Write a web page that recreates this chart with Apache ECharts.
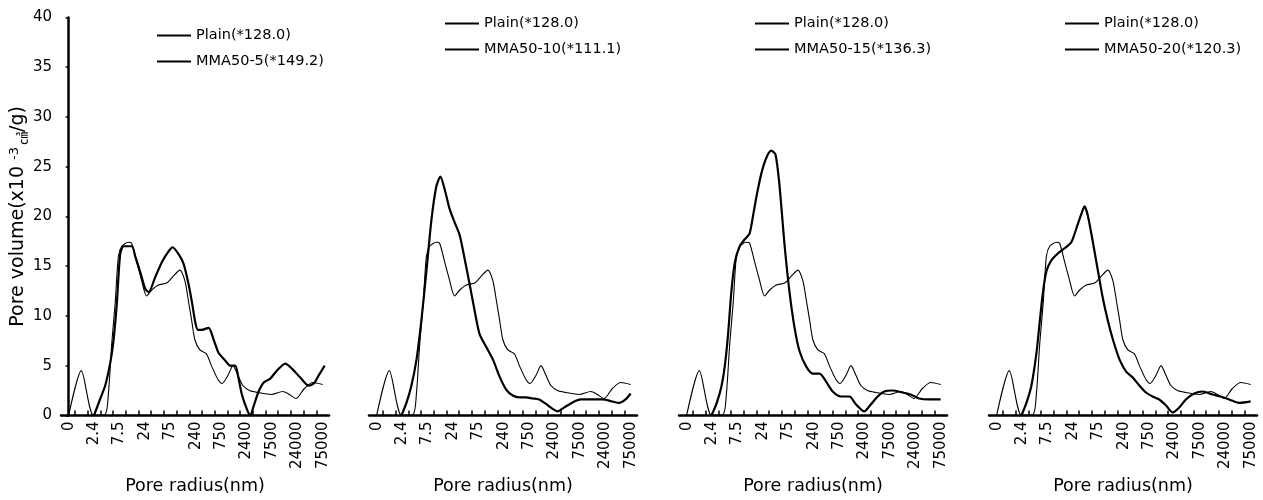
<!DOCTYPE html>
<html>
<head>
<meta charset="utf-8">
<script src="https://cdn.jsdelivr.net/npm/echarts@6/dist/echarts.min.js"></script>
<style>html,body{margin:0;padding:0;background:#fff}#c{width:1263px;height:500px}</style>
</head>
<body>
<div id="c"></div>
<script>
// Tick labels of the pore-radius axis (nm), one per position index 0..10
const xTickLabels = ['0', '2.4', '7.5', '24', '75', '240', '750', '2400', '7500', '24000', '75000'];

// Series names
const plainName = 'Plain(*128.0)';
const mmaNames = ['MMA50-5(*149.2)', 'MMA50-10(*111.1)', 'MMA50-15(*136.3)', 'MMA50-20(*120.3)'];

// [position index, pore volume]
const plain = [[0,0],[0.5,4.5],[0.98,0],[1.44,0.1],[1.57,2.3],[1.7,7.3],[1.83,11.2],[1.96,16.0],[2.09,17.0],[2.35,17.4],[2.48,17.3],[2.68,15.4],[2.85,13.8],[3.07,12.0],[3.27,12.6],[3.53,13.1],[3.86,13.3],[4.12,14.0],[4.38,14.6],[4.58,13.5],[4.71,11.6],[4.84,9.6],[4.97,7.6],[5.16,6.6],[5.42,6.2],[5.62,5.0],[5.88,3.6],[6.04,3.2],[6.27,4.0],[6.47,5.0],[6.67,4.0],[6.86,3.0],[7.12,2.5],[7.45,2.3],[7.97,2.1],[8.43,2.4],[8.69,2.1],[8.95,1.7],[9.28,2.7],[9.61,3.3],[10.0,3.1]];

const mma5 = [[1.0,0],[1.25,1.7],[1.44,3.0],[1.64,5.3],[1.77,7.6],[1.9,11.3],[2.03,16.2],[2.17,17.0],[2.49,17.0],[2.62,16.0],[2.82,14.4],[3.02,12.7],[3.15,12.4],[3.41,13.9],[3.67,15.4],[3.94,16.5],[4.09,16.9],[4.33,16.2],[4.53,15.2],[4.72,13.2],[4.86,11.3],[4.99,9.3],[5.09,8.6],[5.25,8.6],[5.51,8.8],[5.71,7.6],[5.9,6.3],[6.17,5.5],[6.36,5.0],[6.56,5.0],[6.69,3.7],[6.82,2.1],[7.02,0.6],[7.15,0],[7.28,0.9],[7.48,2.4],[7.68,3.3],[7.94,3.7],[8.2,4.5],[8.53,5.2],[8.79,4.7],[9.12,3.8],[9.45,3.0],[9.65,3.2],[9.84,4.0],[10.08,5.0]];

const mma10 = [[0.98,0],[1.18,1.3],[1.37,3.0],[1.57,5.6],[1.76,9.5],[1.96,14.5],[2.16,19.7],[2.35,23.0],[2.51,24.0],[2.68,22.7],[2.88,20.7],[3.07,19.4],[3.27,18.1],[3.46,15.8],[3.66,13.2],[3.86,10.5],[4.05,8.2],[4.31,6.9],[4.58,5.6],[4.84,3.9],[5.1,2.6],[5.36,2.0],[5.62,1.8],[5.88,1.8],[6.14,1.7],[6.4,1.6],[6.67,1.15],[6.93,0.65],[7.12,0.4],[7.39,0.8],[7.71,1.3],[8.04,1.6],[8.5,1.6],[8.89,1.6],[9.28,1.4],[9.54,1.25],[9.8,1.6],[10.0,2.2]];

const mma15 = [[0.98,0],[1.18,1.2],[1.37,2.9],[1.5,4.9],[1.63,8.1],[1.76,12.4],[1.9,15.4],[2.09,17.0],[2.29,17.7],[2.48,18.3],[2.61,20.0],[2.75,22.0],[2.94,24.3],[3.14,25.9],[3.33,26.6],[3.5,26.2],[3.66,23.0],[3.86,17.0],[4.05,12.4],[4.25,8.8],[4.44,6.5],[4.71,4.9],[4.97,4.2],[5.23,4.2],[5.49,3.4],[5.75,2.4],[6.08,1.9],[6.41,1.9],[6.67,1.1],[6.99,0.4],[7.25,1.1],[7.52,1.9],[7.78,2.4],[8.1,2.5],[8.5,2.3],[8.82,2.1],[9.15,1.7],[9.54,1.6],[10.0,1.6]];

const mma20 = [[0.98,0],[1.18,1.3],[1.37,3.0],[1.57,6.3],[1.7,9.5],[1.83,12.5],[1.96,14.5],[2.16,15.6],[2.42,16.3],[2.68,16.8],[2.94,17.4],[3.14,18.8],[3.33,20.2],[3.46,21.0],[3.59,20.1],[3.79,17.4],[3.99,14.5],[4.18,11.8],[4.38,9.5],[4.58,7.6],[4.84,5.6],[5.1,4.4],[5.36,3.8],[5.62,3.0],[5.88,2.3],[6.14,1.9],[6.4,1.6],[6.67,1.0],[6.93,0.3],[7.19,0.8],[7.45,1.6],[7.78,2.2],[8.1,2.4],[8.5,2.1],[8.82,1.9],[9.15,1.6],[9.54,1.25],[10.0,1.4]];

const mmaData = [mma5, mma10, mma15, mma20];

// ---- layout / style ----
const FONT = 'DejaVu Sans';
const gridLefts = [61, 369, 679, 989];
const legendLefts = [151, 439, 749, 1059];
const legendTops = [23, 11, 11, 11];
const labelIdx = xTickLabels.map((_, i) => i);
const tickIdx = [];
for (let i = 0; i < xTickLabels.length - 1; i++) { tickIdx.push(i + 0.25, i + 0.75); }

const grids = [], xAxes = [], yAxes = [], series = [], legends = [];
for (let p = 0; p < 4; p++) {
  grids.push({ left: gridLefts[p], width: 268, top: 17.4, height: 405, containLabel: false });
  xAxes.push({
    type: 'value', gridIndex: p, min: -0.3, max: 10.25,
    axisLine: { show: true, onZero: false, lineStyle: { color: '#000', width: 2.5 } },
    axisTick: { show: true, inside: true, length: 5, customValues: tickIdx, lineStyle: { color: '#000', width: 1.5 } },
    axisLabel: { show: true, customValues: labelIdx, rotate: 90, margin: 6, color: '#000', fontSize: 15, fontFamily: FONT,
      formatter: v => xTickLabels[Math.round(v)] },
    splitLine: { show: false },
    name: 'Pore radius(nm)', nameLocation: 'middle', nameGap: 56,
    nameTextStyle: { color: '#000', fontSize: 17.5, fontFamily: FONT }
  });
  if (p === 0) {
    yAxes.push({
      type: 'value', gridIndex: p, min: 0, max: 40, interval: 5,
      axisLine: { show: true, lineStyle: { color: '#000', width: 2.5 } },
      axisTick: { show: true, length: 3, lineStyle: { color: '#000', width: 1.5 } },
      axisLabel: { color: '#000', fontSize: 15, fontFamily: FONT, margin: 9 },
      splitLine: { show: false },
      name: '{n|Pore volume(x10 }{sup|-3}{sub|㎤}{n|/g)}', nameLocation: 'middle', nameGap: 29,
      nameTextStyle: {
        color: '#000', fontFamily: FONT, fontSize: 19,
        rich: {
          n: { fontSize: 19, fontFamily: FONT, color: '#000' },
          sup: { fontSize: 13, fontFamily: FONT, color: '#000', verticalAlign: 'top', padding: [0, 2, 8, 0] },
          sub: { fontSize: 13, fontFamily: 'Noto Sans CJK KR', color: '#000', verticalAlign: 'bottom' }
        }
      }
    });
  } else {
    yAxes.push({ type: 'value', gridIndex: p, min: 0, max: 40, show: false, splitLine: { show: false } });
  }
  series.push({
    type: 'line', name: plainName, xAxisIndex: p, yAxisIndex: p, data: plain,
    symbol: 'none', smooth: 0.25, lineStyle: { color: '#000', width: 1.1 }, itemStyle: { color: '#000' }, z: 3
  });
  series.push({
    type: 'line', name: mmaNames[p], xAxisIndex: p, yAxisIndex: p, data: mmaData[p],
    symbol: 'none', smooth: 0.25, lineStyle: { color: '#000', width: 2.2 }, itemStyle: { color: '#000' }, z: 4
  });
  legends.push({
    orient: 'vertical', left: legendLefts[p], top: legendTops[p],
    itemWidth: 34, itemHeight: 14, itemGap: 11, selectedMode: false,
    itemStyle: { opacity: 0 },
    textStyle: { color: '#000', fontSize: 14.5, fontFamily: FONT },
    data: [plainName, mmaNames[p]]
  });
}

const chart = echarts.init(document.getElementById('c'), null, { renderer: 'canvas' });
chart.setOption({
  animation: false,
  backgroundColor: '#fff',
  grid: grids, xAxis: xAxes, yAxis: yAxes, series: series, legend: legends
});
</script>
</body>
</html>
